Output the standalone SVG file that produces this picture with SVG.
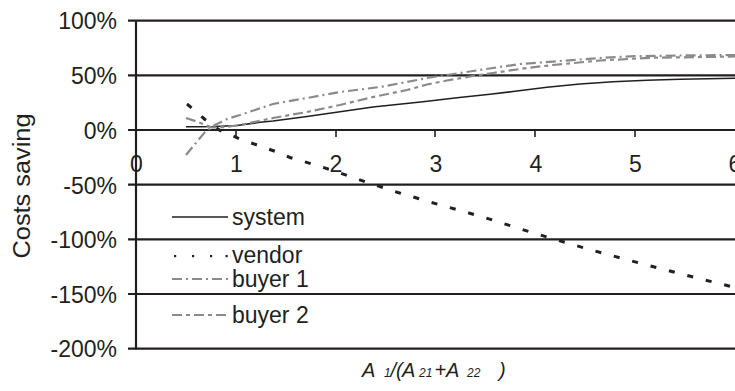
<svg xmlns="http://www.w3.org/2000/svg" width="735" height="391" viewBox="0 0 735 391">
  <style>
    .lbl { font-family: "Liberation Sans", Arial, sans-serif; font-size: 23px; fill: #231f20; }
    .ttl { font-family: "Liberation Sans", Arial, sans-serif; font-size: 20px; fill: #231f20; font-style: italic; }
    .sub { font-size: 12px; }
    .grid { stroke: #231f20; stroke-width: 2.2; fill: none; }
    .tick { stroke: #231f20; stroke-width: 1.6; fill: none; }
    .system { stroke: #231f20; stroke-width: 1.6; fill: none; }
    .vendor { stroke: #231f20; stroke-width: 3; fill: none; stroke-dasharray: 6 13; }
    .buyer1 { stroke: #8a8a8a; stroke-width: 2.2; fill: none; stroke-dasharray: 10 4 2 4; }
    .buyer2 { stroke: #8a8a8a; stroke-width: 2.2; fill: none; stroke-dasharray: 10 4 4 4; }
  </style>
  <rect width="735" height="391" fill="#ffffff"/>

  <!-- horizontal gridlines with left ticks -->
  <g id="gridlines">
    <line class="grid" x1="128" y1="20.7" x2="735" y2="20.7"/>
    <line class="grid" x1="128" y1="75.3" x2="735" y2="75.3"/>
    <line class="grid" x1="128" y1="130" x2="735" y2="130"/>
    <line class="grid" x1="128" y1="184.7" x2="735" y2="184.7"/>
    <line class="grid" x1="128" y1="239.3" x2="735" y2="239.3"/>
    <line class="grid" x1="128" y1="294" x2="735" y2="294"/>
    <line class="grid" x1="128" y1="348.7" x2="735" y2="348.7" stroke="#555555"/>
  </g>

  <!-- vertical axis and x ticks -->
  <g id="axes">
    <line class="grid" x1="136" y1="20" x2="136" y2="349.5"/>
    <line class="tick" x1="236" y1="130" x2="236" y2="137"/>
    <line class="tick" x1="336" y1="130" x2="336" y2="137"/>
    <line class="tick" x1="435" y1="130" x2="435" y2="137"/>
    <line class="tick" x1="535" y1="130" x2="535" y2="137"/>
    <line class="tick" x1="635" y1="130" x2="635" y2="137"/>
  </g>

  <!-- y tick labels -->
  <g id="y-labels" class="lbl" text-anchor="end">
    <text x="117" y="29">100%</text>
    <text x="117" y="84">50%</text>
    <text x="117" y="138.5">0%</text>
    <text x="117" y="193.5">-50%</text>
    <text x="117" y="248">-100%</text>
    <text x="117" y="302.5">-150%</text>
    <text x="117" y="357">-200%</text>
  </g>

  <!-- x tick labels -->
  <g id="x-labels" class="lbl" text-anchor="middle">
    <text x="136.5" y="172">0</text>
    <text x="236.5" y="172">1</text>
    <text x="336" y="172">2</text>
    <text x="436" y="172">3</text>
    <text x="536" y="172">4</text>
    <text x="635.5" y="172">5</text>
    <text x="735" y="172">6</text>
  </g>

  <!-- axis titles -->
  <g id="y-title">
    <text class="lbl" font-size="24" text-anchor="middle" transform="translate(30,186) rotate(-90)" textLength="145" lengthAdjust="spacingAndGlyphs">Costs saving</text>
  </g>
  <g id="x-title">
    <text class="ttl" y="377"><tspan x="362">A</tspan><tspan class="sub" x="384">1</tspan><tspan x="390.5">/(</tspan><tspan x="402">A</tspan><tspan class="sub" x="419">21</tspan><tspan x="434.5">+</tspan><tspan x="446">A</tspan><tspan class="sub" x="467">22</tspan><tspan x="499">)</tspan></text>
  </g>

  <!-- data series -->
  <g id="series">
    <path id="series-system" class="system" d="M186,126.7 L200,126.8 L215,126.5 L237,125.5 L260,122.3 L273,121 L307,116.5 L340,111.7 L373,107 L423,101.7 L457,97.7 L490,94.3 L513,91.5 L547,87.3 L580,84 L613,81.7 L647,80.2 L680,79.3 L735,78.3"/>
    <path id="series-vendor" class="vendor" d="M187,104 L205,119.5 L220,130.5 L240,139 L257,145 L277,152 L290,157.5 L312,164 L333,170.5 L366,182 L398,192.5 L430,202 L483,217 L519,228.5 L557,240 L593,250.5 L628,260 L664,269.5 L699,278.5 L735,287.5"/>
    <path id="series-buyer1" class="buyer1" d="M186,155 L195,144 L205,132 L215,125 L227,119 L240,115 L255,110 L273,104 L307,98 L340,92 L380,87 L407,82 L427,78 L460,73 L493,68 L520,64 L560,61 L600,58 L630,56.3 L680,55.5 L735,55"/>
    <path id="series-buyer2" class="buyer2" d="M186,118 L198,122 L212,127.5 L225,127 L240,125 L273,118 L307,112 L340,105 L373,97 L407,90 L427,84.5 L447,80.5 L473,76 L493,73 L527,68 L553,65 L600,60.5 L650,57.8 L735,56.5"/>
  </g>

  <!-- legend -->
  <g id="legend">
    <g id="legend-system">
      <line class="system" x1="172" y1="217" x2="228" y2="217"/>
      <text class="lbl" x="232" y="225">system</text>
    </g>
    <g id="legend-vendor" fill="#231f20">
      <rect x="174" y="255" width="2.2" height="2.2"/>
      <rect x="192" y="255" width="2.2" height="2.2"/>
      <rect x="210" y="255" width="2.2" height="2.2"/>
      <rect x="225.5" y="255" width="2.2" height="2.2"/>
      <text class="lbl" x="232" y="263">vendor</text>
    </g>
    <g id="legend-buyer1">
      <line class="buyer1" x1="172" y1="279" x2="228" y2="279"/>
      <text class="lbl" x="232" y="287">buyer 1</text>
    </g>
    <g id="legend-buyer2">
      <line class="buyer2" x1="172" y1="315" x2="228" y2="315"/>
      <text class="lbl" x="232" y="323">buyer 2</text>
    </g>
  </g>
</svg>
